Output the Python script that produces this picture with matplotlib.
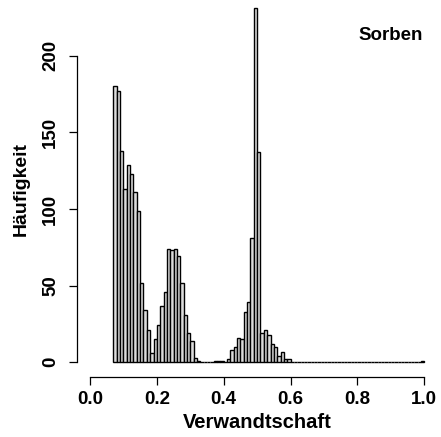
import matplotlib
matplotlib.use("Agg")
import matplotlib.pyplot as plt
import numpy as np

# Histogramm der Verwandtschaftswerte (Sorben), Klassenbreite 0.01 ab 0.07
bin_start = 0.07
bin_width = 0.01
counts = [180, 177, 138, 113, 129, 123, 111, 99, 52, 34,      # 0.07 - 0.16
          21, 6, 15, 24, 37, 46, 74, 73, 74, 69,              # 0.17 - 0.26
          52, 31, 19, 14, 3, 1, 0, 0, 0, 0,                   # 0.27 - 0.36
          1, 1, 1, 0, 2, 8, 10, 16, 15, 33,                   # 0.37 - 0.46
          39, 81, 231, 137, 19, 21, 18, 12, 10, 4,            # 0.47 - 0.56
          7, 2, 2] + [0] * 39 + [1]                           # 0.57 - 0.99
x_ticks = [0.0, 0.2, 0.4, 0.6, 0.8, 1.0]
y_ticks = [0, 50, 100, 150, 200]
title = "Sorben"
xlab = "Verwandtschaft"
ylab = "Häufigkeit"

plt.rcParams['font.family'] = ['Liberation Sans', 'DejaVu Sans']
plt.rcParams['font.weight'] = 'bold'

fig = plt.figure(figsize=(4.41, 4.37), dpi=100)
ax = fig.add_axes([0.1737, 0.1366, 0.8188, 0.8634])

lefts = bin_start + bin_width * np.arange(len(counts))
ax.bar(lefts, counts, width=bin_width, align='edge', color='#dcdcdc',
       edgecolor='black', linewidth=1.0)

ax.set_xlim(-0.04, 1.04)
ax.set_ylim(-9.8, 236.3)

for s in ['top', 'right']:
    ax.spines[s].set_visible(False)
ax.spines['bottom'].set_bounds(0, 1)
ax.spines['left'].set_bounds(0, 200)
ax.spines['bottom'].set_linewidth(0.9)
ax.spines['left'].set_linewidth(0.9)

ax.set_xticks(x_ticks)
ax.set_xticklabels([f"{v:.1f}" for v in x_ticks])
ax.set_yticks(y_ticks)
ax.set_yticklabels([str(v) for v in y_ticks], rotation=90, va='center')
ax.tick_params(axis='both', length=5.5, width=0.9, labelsize=13.5)
ax.tick_params(axis='x', pad=4)
ax.tick_params(axis='y', pad=7)

ax.set_xlabel(xlab, fontsize=14.5, fontweight='bold', labelpad=4)
ax.set_ylabel(ylab, fontsize=14, fontweight='bold', labelpad=9)

fig.text(423 / 441, 1 - 40 / 437, title, ha='right', va='baseline',
         fontsize=13.5, fontweight='bold')

fig.savefig("out.png", dpi=100)
